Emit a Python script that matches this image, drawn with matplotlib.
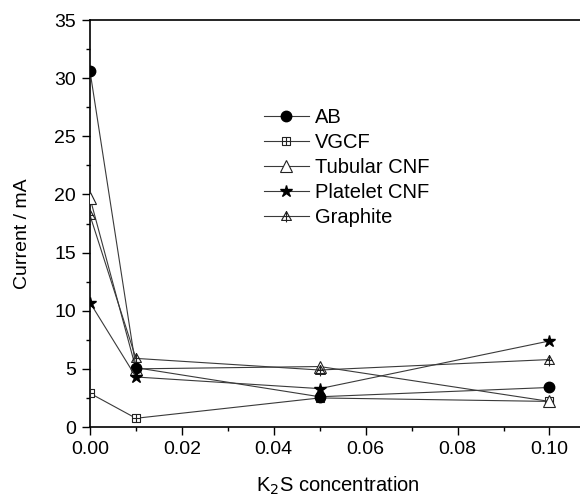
import matplotlib
matplotlib.use("Agg")
import matplotlib.pyplot as plt
from matplotlib.path import Path
from matplotlib.ticker import MultipleLocator, FormatStrFormatter

plt.rcParams['font.family'] = ['Liberation Sans', 'DejaVu Sans']

conc = [0.0, 0.01, 0.05, 0.10]
ab = [30.6, 5.1, 2.6, 3.4]
vgcf = [2.9, 0.75, 2.5, 2.2]
tubular = [19.7, 5.0, 5.2, 2.2]
platelet = [10.7, 4.3, 3.3, 7.4]
graphite = [18.2, 5.9, 4.9, 5.8]
labels = ["AB", "VGCF", "Tubular CNF", "Platelet CNF", "Graphite"]

# custom markers
sq_plus = Path([(-1, -1), (1, -1), (1, 1), (-1, 1), (-1, -1), (0, -1), (0, 1), (-1, 0), (1, 0)],
               [Path.MOVETO, Path.LINETO, Path.LINETO, Path.LINETO, Path.CLOSEPOLY,
                Path.MOVETO, Path.LINETO, Path.MOVETO, Path.LINETO])
tri_cross = Path([(-1, -0.8), (1, -0.8), (0, 1), (-1, -0.8), (0, -1.2), (0, 1), (-0.6, 0), (0.6, 0)],
                 [Path.MOVETO, Path.LINETO, Path.LINETO, Path.CLOSEPOLY,
                  Path.MOVETO, Path.LINETO, Path.MOVETO, Path.LINETO])

fig = plt.figure(figsize=(5.8, 4.98), dpi=100)
ax = fig.add_axes([90/580, 1-427/498, 1-90/580 + 0.01, (427-20)/498])

lc = '#3a3a3a'
lw = 0.8
ax.plot(conc, ab, '-', color=lc, lw=lw, marker='o', ms=7.5, mfc='black', mec='black', label=labels[0], zorder=5)
ax.plot(conc, vgcf, '-', color=lc, lw=lw, marker=sq_plus, ms=6, mfc='white', mec='#222222', mew=0.8, label=labels[1], zorder=3)
ax.plot(conc, tubular, '-', color=lc, lw=lw, marker='^', ms=8, mfc='white', mec='#222222', mew=0.8, label=labels[2], zorder=3)
ax.plot(conc, platelet, '-', color=lc, lw=lw, marker='*', ms=9, mfc='black', mec='black', label=labels[3], zorder=5)
ax.plot(conc, graphite, '-', color=lc, lw=lw, marker=tri_cross, ms=8.5, mfc='none', mec='#222222', mew=0.8, label=labels[4], zorder=4)

ax.set_xlim(0, 0.1079)
ax.set_ylim(0, 35)
ax.xaxis.set_major_locator(MultipleLocator(0.02))
ax.xaxis.set_minor_locator(MultipleLocator(0.01))
ax.yaxis.set_major_locator(MultipleLocator(5))
ax.yaxis.set_minor_locator(MultipleLocator(2.5))
ax.xaxis.set_major_formatter(FormatStrFormatter('%.2f'))
ax.tick_params(which='both', direction='out', labelsize=14, width=1.0, pad=4)
ax.tick_params(which='major', length=6)
ax.tick_params(which='minor', length=3)
ax.spines['right'].set_visible(False)
for s in ['left', 'bottom', 'top']:
    ax.spines[s].set_linewidth(1.2)

ax.set_xlabel('K$_2$S concentration', fontsize=14.5, labelpad=12)
ax.set_ylabel('Current / mA', fontsize=14, labelpad=9)
ax.yaxis.set_label_coords(-0.118, 0.475)

ax.legend(loc='upper left', bbox_to_anchor=(0.35, 0.783), frameon=False, fontsize=14.5,
          handlelength=2.25, handletextpad=0.3, labelspacing=0.3, borderaxespad=0,
          borderpad=0)

fig.savefig('out.png', dpi=100)
